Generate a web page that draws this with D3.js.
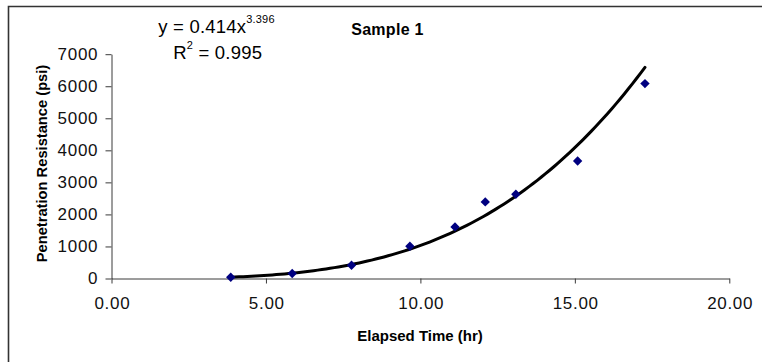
<!DOCTYPE html>
<html>
<head>
<meta charset="utf-8">
<script src="https://cdn.jsdelivr.net/npm/d3@7"></script>
<style>
  html, body { margin: 0; padding: 0; background: #fff; overflow: hidden; }
  svg { display: block; font-family: "Liberation Sans", Arial, sans-serif; overflow: hidden; }
</style>
</head>
<body>
<svg id="chart" width="762" height="362"></svg>
<script>
// ---- data ----
const elapsedHours = [3.86, 5.85, 7.77, 9.66, 11.12, 12.10, 13.09, 15.09, 17.27];
const resistancePsi = [40, 156, 415, 1007, 1610, 2390, 2630, 3668, 6082];
const xTickValues = [0, 5, 10, 15, 20];
const yTickValues = [0, 1000, 2000, 3000, 4000, 5000, 6000, 7000];
const fitCoef = 0.414;
const fitExp = 3.396;
const fitR2 = 0.995;
const chartTitle = "Sample 1";
const xTitle = "Elapsed Time (hr)";
const yTitle = "Penetration Resistance (psi)";

// ---- layout ----
const W = 762, H = 362;
const svg = d3.select("#chart");
const x = d3.scaleLinear().domain([0, 20]).range([111.5, 729.3]);
const y = d3.scaleLinear().domain([0, 7000]).range([278.5, 54.2]);

// outer frame: only its top and left edges fall inside the picture
svg.append("path")
  .attr("d", d3.line()([[8.5, H], [8.5, 6.5], [W, 6.5]]))
  .attr("fill", "none").attr("stroke", "#333").attr("stroke-width", 1.6);

// axes
const axisColor = "#3a3a3a";
const xAxis = svg.append("g")
  .attr("transform", `translate(0,${y(0)})`)
  .call(d3.axisBottom(x).tickValues(xTickValues).tickFormat(d3.format(".2f"))
        .tickSize(5).tickSizeOuter(0).tickPadding(13));
const yAxis = svg.append("g")
  .attr("transform", `translate(${x(0)},0)`)
  .call(d3.axisLeft(y).tickValues(yTickValues).tickFormat(d3.format("d"))
        .tickSize(6).tickSizeOuter(0).tickPadding(8));

[xAxis, yAxis].forEach(g => {
  g.select(".domain").attr("stroke", axisColor);
  g.selectAll(".tick line").attr("stroke", axisColor);
  g.selectAll(".tick text")
    .attr("fill", "#111")
    .style("font-family", '"Liberation Sans", Arial, sans-serif')
    .style("font-size", "17px")
    .style("letter-spacing", "0.7px");
});
xAxis.selectAll(".tick text").attr("dx", "0.35px");
yAxis.selectAll(".tick text").attr("dx", "0.7px");

// trendline (power fit)
const xMin = d3.min(elapsedHours), xMax = d3.max(elapsedHours);
const fitPts = d3.range(0, 101).map(i => {
  const xv = xMin + (xMax - xMin) * i / 100;
  return [xv, fitCoef * Math.pow(xv, fitExp)];
});
svg.append("path")
  .datum(fitPts)
  .attr("fill", "none")
  .attr("stroke", "#000")
  .attr("stroke-width", 3)
  .attr("stroke-linecap", "round")
  .attr("d", d3.line().x(d => x(d[0])).y(d => y(d[1])));

// markers (navy diamonds)
svg.append("g").selectAll("path")
  .data(elapsedHours.map((h, i) => [h, resistancePsi[i]]))
  .join("path")
  .attr("transform", d => `translate(${x(d[0])},${y(d[1])}) rotate(45)`)
  .attr("d", d3.symbol(d3.symbolSquare).size(44)())
  .attr("fill", "#000080");

// titles
svg.append("text")
  .attr("x", 387.5).attr("y", 35)
  .attr("text-anchor", "middle")
  .style("font-weight", "bold").style("font-size", "16px")
  .style("letter-spacing", "0.3px")
  .attr("fill", "#000")
  .text(chartTitle);

svg.append("text")
  .attr("x", 420).attr("y", 340.5)
  .attr("text-anchor", "middle")
  .style("font-weight", "bold").style("font-size", "15px")
  .attr("fill", "#000")
  .text(xTitle);

svg.append("text")
  .attr("transform", "translate(46.5,163.5) rotate(-90)")
  .attr("text-anchor", "middle")
  .style("font-weight", "bold").style("font-size", "14.7px")
  .attr("fill", "#000")
  .text(yTitle);

// equation and R²
const eq = svg.append("text")
  .attr("x", 158.3).attr("y", 33)
  .style("font-size", "18.5px").style("letter-spacing", "0.2px")
  .attr("fill", "#000");
eq.append("tspan").text(`y = ${fitCoef}x`);
eq.append("tspan").attr("dy", -10).style("font-size", "11px").style("letter-spacing", "0.2px")
  .text(fitExp.toFixed(3));

const r2 = svg.append("text")
  .attr("x", 173.3).attr("y", 59.3)
  .style("font-size", "18.5px").style("letter-spacing", "0.2px")
  .attr("fill", "#000");
r2.append("tspan").text("R");
r2.append("tspan").attr("dy", -10).style("font-size", "11px").text("2");
r2.append("tspan").attr("dy", 10).text(` = ${fitR2}`);
</script>
</body>
</html>
